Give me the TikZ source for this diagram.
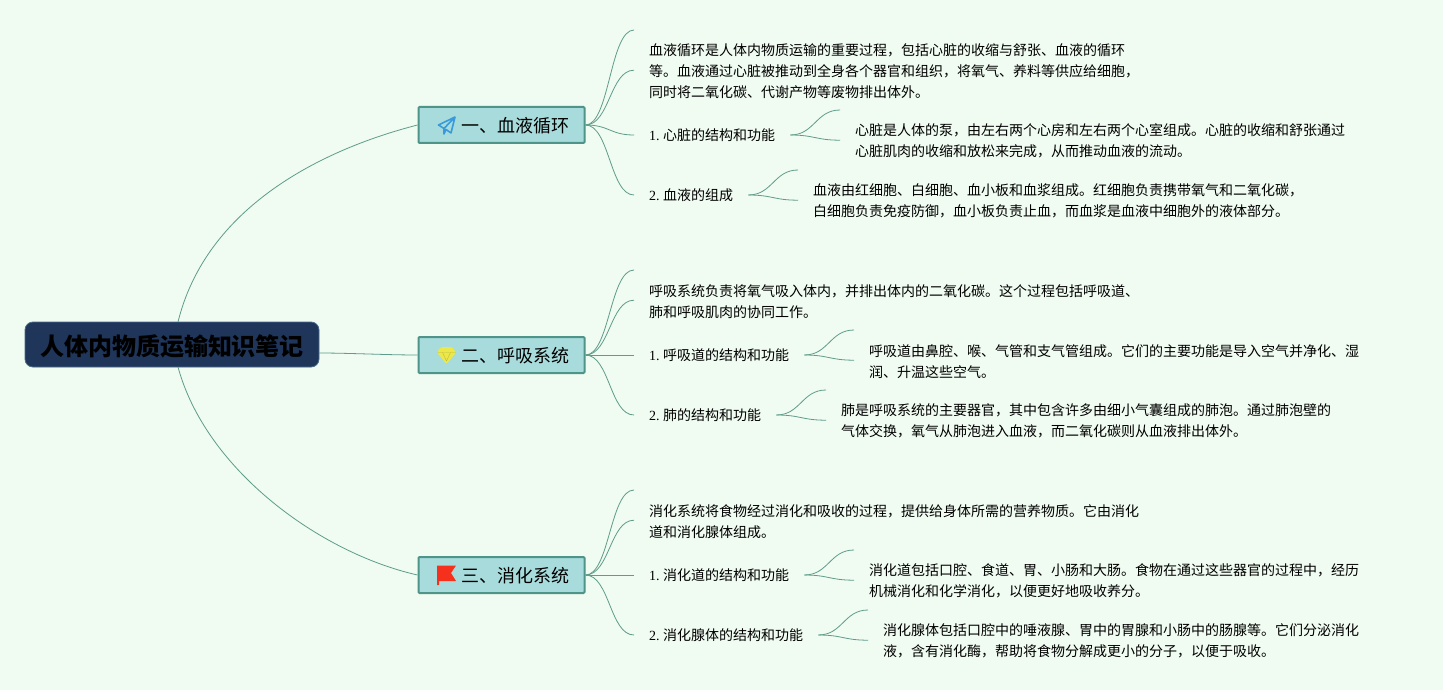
\documentclass[tikz,border=0pt]{standalone}
\usepackage{fontspec}
\setmainfont{Noto Sans CJK SC}
\newfontfamily\ser{Liberation Serif}
\usetikzlibrary{calc}
\definecolor{bgc}{HTML}{F0FBF1}
\definecolor{edgec}{HTML}{5E9C8C}
\definecolor{boxf}{HTML}{A8DCDC}
\definecolor{boxd}{HTML}{4F9488}
\definecolor{rootf}{HTML}{1F3559}
\definecolor{rootd}{HTML}{4A6A8A}
\definecolor{planec}{HTML}{3A9AD9}
\definecolor{gemc}{HTML}{EDE84A}
\definecolor{flagc}{HTML}{F5301C}
\tikzset{
  rootbox/.style={draw=rootd,line width=0.8pt,fill=rootf,rounded corners=8pt,minimum width=294pt,minimum height=45pt,inner sep=0pt,font=\fontsize{24}{30}\selectfont\bfseries,text=black},
  secbox/.style={draw=boxd,line width=2pt,fill=boxf,rounded corners=1pt,minimum width=166pt,minimum height=36pt,inner sep=0pt,font=\fontsize{18}{22}\selectfont,text=black},
  bodytext/.style={anchor=north west,inner xsep=15pt,inner ysep=0pt,align=left,font=\fontsize{14}{21}\selectfont,text=black},
  bodysixty/.style={bodytext,minimum height=62pt},
  bodyeighty/.style={bodytext,minimum height=82pt},
  itemlabel/.style={anchor=west,inner xsep=15pt,inner ysep=0pt,font=\fontsize{14}{21}\selectfont,text=black,text depth=-2pt},
  edgeline/.style={draw=edgec,line width=0.8pt},
  swing/.style={out=0,in=180,distance=24pt}
}
\newcommand{\sectext}[1]{\raisebox{-7.5pt}[0pt][0pt]{\makebox[166pt][l]{\hspace{43pt}#1}}}
\newcommand{\numlabel}[1]{{\ser #1.}\hspace{3.5pt}}
\begin{document}
\begin{tikzpicture}[x=1pt,y=-1pt]
\useasboundingbox (0,0) rectangle (1443,690);
\fill[bgc] (0,0) rectangle (1443,690);

% nodes
\node[rootbox] (root) at (172,344.5) {\raisebox{-11pt}[0pt][0pt]{人体内物质运输知识笔记}};
\coordinate (rootup) at (178,322);
\coordinate (rootdn) at (178,367);
\coordinate (rootmid) at (319,353);
\node[secbox] (s1) at (501.5,125) {\sectext{一、血液循环}};
\node[secbox] (s2) at (501.5,355) {\sectext{二、呼吸系统}};
\node[secbox] (s3) at (501.5,575) {\sectext{三、消化系统}};

\node[bodyeighty] (a0) at (634,30) {血液循环是人体内物质运输的重要过程，包括心脏的收缩与舒张、血液的循环\\等。血液通过心脏被推动到全身各个器官和组织，将氧气、养料等供应给细胞，\\同时将二氧化碳、代谢产物等废物排出体外。};
\node[itemlabel] (a1) at (634,135) {\numlabel{1}心脏的结构和功能};
\node[bodysixty] (a1t) at (840,110) {心脏是人体的泵，由左右两个心房和左右两个心室组成。心脏的收缩和舒张通过\\心脏肌肉的收缩和放松来完成，从而推动血液的流动。};
\node[itemlabel] (a2) at (634,195) {\numlabel{2}血液的组成};
\node[bodysixty] (a2t) at (798,170) {血液由红细胞、白细胞、血小板和血浆组成。红细胞负责携带氧气和二氧化碳，\\白细胞负责免疫防御，血小板负责止血，而血浆是血液中细胞外的液体部分。};

\node[bodysixty] (b0) at (634,270) {呼吸系统负责将氧气吸入体内，并排出体内的二氧化碳。这个过程包括呼吸道、\\肺和呼吸肌肉的协同工作。};
\node[itemlabel] (b1) at (634,355) {\numlabel{1}呼吸道的结构和功能};
\node[bodysixty] (b1t) at (854,330) {呼吸道由鼻腔、喉、气管和支气管组成。它们的主要功能是导入空气并净化、湿\\润、升温这些空气。};
\node[itemlabel] (b2) at (634,415) {\numlabel{2}肺的结构和功能};
\node[bodysixty] (b2t) at (826,390) {肺是呼吸系统的主要器官，其中包含许多由细小气囊组成的肺泡。通过肺泡壁的\\气体交换，氧气从肺泡进入血液，而二氧化碳则从血液排出体外。};

\node[bodysixty] (c0) at (634,490) {消化系统将食物经过消化和吸收的过程，提供给身体所需的营养物质。它由消化\\道和消化腺体组成。};
\node[itemlabel] (c1) at (634,575) {\numlabel{1}消化道的结构和功能};
\node[bodysixty] (c1t) at (854,550) {消化道包括口腔、食道、胃、小肠和大肠。食物在通过这些器官的过程中，经历\\机械消化和化学消化，以便更好地吸收养分。};
\node[itemlabel] (c2) at (634,635) {\numlabel{2}消化腺体的结构和功能};
\node[bodysixty] (c2t) at (868,610) {消化腺体包括口腔中的唾液腺、胃中的胃腺和小肠中的肠腺等。它们分泌消化\\液，含有消化酶，帮助将食物分解成更小的分子，以便于吸收。};

% root connectors
\draw[edgeline] (rootup) .. controls (206,208) and (320,150) .. (s1.west);
\draw[edgeline] (rootmid) to[out=0,in=180,distance=30pt] (s2.west);
\draw[edgeline] (rootdn) .. controls (206,470) and (320,553) .. (s3.west);

% section connectors
\foreach \s/\z/\i/\j in {s1/a0/a1/a2,s2/b0/b1/b2,s3/c0/c1/c2}{
  \draw[edgeline] (\s.east) to[swing] (\z.north west);
  \draw[edgeline] (\s.east) to[swing] ($(\z.west)+(0,-1)$);
  \draw[edgeline] (\s.east) to[swing] (\i.west);
  \draw[edgeline] (\s.east) to[swing] (\j.west);
  \draw[edgeline] (\i.east) to[swing] (\i t.north west);
  \draw[edgeline] (\i.east) to[swing] ($(\i t.west)+(0,-1)$);
  \draw[edgeline] (\j.east) to[swing] (\j t.north west);
  \draw[edgeline] (\j.east) to[swing] ($(\j t.west)+(0,-1)$);
}

% icons
\draw[planec,line width=1.6pt,line join=round] (455,117) -- (438.5,125) -- (444,128.5) -- (455,117) -- (451,133) -- (446,129.5) -- (444,134) -- (444,128.5);
\fill[gemc,rounded corners=1.5pt] (441,347) -- (452,347) -- (456,352.5) -- (446.5,364) -- (437,352.5) -- cycle;
\draw[gemc!80!black,line width=0.4pt] (437.5,352.5) -- (455.5,352.5) (442.5,352.5) -- (446.5,361) -- (450.5,352.5);
\fill[flagc] (437,565.5) -- (456,565.5) -- (451,573) -- (456,581) -- (439,581) -- (439,585) -- (437,585) -- cycle;
\end{tikzpicture}
\end{document}
